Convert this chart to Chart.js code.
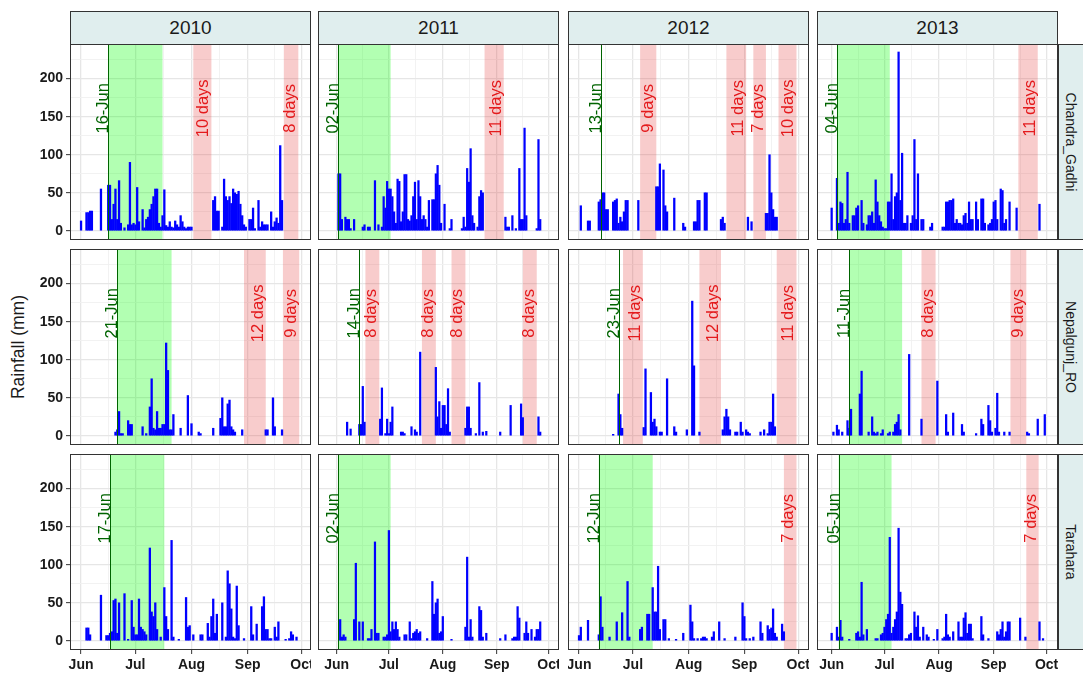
<!DOCTYPE html>
<html><head><meta charset="utf-8">
<script src="https://cdn.jsdelivr.net/npm/chart.js@4.4.1/dist/chart.umd.min.js"></script>
<style>
html,body{margin:0;padding:0;background:#fff}
body{width:1083px;height:675px;overflow:hidden;position:relative;font-family:"Liberation Sans",Arial,sans-serif}
.strip{position:absolute;background:#E0EEEE;border:1px solid #333;box-sizing:border-box}
.stxt{position:absolute;color:#1a1a1a;white-space:nowrap}
</style></head><body>
<script>
// ---------------- data ----------------
const stations = ['Chandra_Gadhi', 'Nepalgunj_RO', 'Tarahara'];
const years = ['2010', '2011', '2012', '2013'];
const monthDays = [0, 30, 61, 92, 122];           // days since 1 Jun
const monthLabels = ['Jun', 'Jul', 'Aug', 'Sep', 'Oct'];
const yTickValues = [0, 50, 100, 150, 200];

// daily rainfall [day since 1 Jun, mm]
const cg2010 = [[0,13],[3,24],[4,24],[5,26],[6,26],[11,55],[15,60],[16,60],[17,15],[18,35],[19,55],[20,15],[21,66],[22,10],[24,4],[26,8],[27,90],[28,8],[29,10],[30,8],[31,57],[32,12],[34,28],[35,4],[36,15],[37,18],[38,28],[39,35],[40,45],[41,55],[42,55],[43,10],[44,5],[45,20],[46,54],[47,7],[48,5],[49,12],[50,5],[51,4],[52,13],[53,8],[54,5],[55,20],[56,12],[57,5],[58,3],[59,5],[60,5],[61,5],[73,40],[74,45],[75,26],[76,26],[78,5],[79,68],[80,45],[81,40],[82,45],[83,36],[84,55],[85,50],[86,48],[87,52],[88,35],[89,20],[90,8],[91,5],[93,15],[94,15],[95,30],[96,3],[98,40],[99,5],[100,12],[101,8],[102,8],[103,8],[105,25],[106,5],[107,12],[108,17],[109,10],[110,112],[111,40]];
const cg2011 = [[1,75],[2,75],[3,15],[5,18],[6,15],[7,15],[8,3],[10,15],[15,5],[16,8],[18,5],[19,5],[22,66],[24,8],[26,5],[27,45],[28,30],[29,65],[30,55],[31,55],[32,45],[33,25],[34,10],[35,68],[36,65],[37,12],[38,25],[39,74],[40,74],[41,15],[42,13],[43,20],[44,45],[45,64],[46,15],[47,66],[48,45],[49,15],[50,20],[51,15],[52,5],[53,40],[55,41],[56,41],[57,75],[58,86],[59,60],[60,10],[62,35],[65,3],[66,15],[72,3],[73,18],[74,5],[75,82],[76,64],[77,108],[78,20],[79,10],[81,5],[82,45],[83,53],[84,50],[97,18],[98,5],[99,5],[101,20],[103,3],[105,82],[106,15],[107,15],[108,135],[109,20],[115,3],[116,120],[117,15]];
const cg2012 = [[1,33],[5,13],[6,13],[11,38],[12,41],[13,50],[14,50],[15,28],[16,28],[19,38],[20,40],[21,42],[22,10],[23,18],[24,12],[25,25],[26,40],[27,40],[33,40],[43,58],[44,58],[45,88],[47,80],[48,33],[49,25],[53,43],[58,10],[59,5],[64,12],[65,12],[66,40],[67,40],[70,50],[71,50],[79,15],[80,18],[81,10],[94,18],[96,12],[104,23],[105,23],[106,100],[107,50],[108,28],[109,18],[110,18]];
const cg2013 = [[0,30],[3,69],[4,10],[5,38],[6,36],[7,10],[8,15],[9,77],[10,10],[12,20],[13,20],[14,30],[15,33],[17,40],[18,10],[20,8],[21,20],[22,20],[23,25],[24,10],[25,67],[26,38],[27,20],[28,12],[29,5],[30,3],[31,3],[32,38],[33,38],[34,75],[35,15],[36,45],[37,50],[38,235],[39,40],[40,102],[41,10],[42,10],[43,20],[45,10],[46,20],[47,120],[48,15],[49,75],[51,15],[52,15],[56,5],[57,10],[63,5],[64,5],[65,38],[66,38],[67,40],[68,40],[69,42],[70,10],[71,15],[72,10],[73,10],[74,8],[75,20],[76,23],[77,10],[78,38],[79,15],[80,15],[82,38],[83,15],[85,42],[86,42],[87,10],[89,8],[90,10],[91,15],[92,38],[93,40],[94,15],[96,55],[97,53],[98,10],[99,15],[101,38],[105,30],[118,35]];
const ng2010 = [[19,5],[20,8],[21,32],[22,3],[23,3],[26,20],[27,15],[28,15],[34,12],[36,3],[38,38],[39,75],[40,10],[41,8],[42,32],[43,10],[44,10],[45,15],[46,15],[47,122],[48,86],[49,8],[50,8],[51,28],[55,10],[59,53],[61,16],[65,5],[66,3],[73,10],[77,23],[78,50],[79,12],[80,12],[81,42],[82,47],[83,12],[84,8],[85,5],[89,8],[102,8],[103,8],[106,50],[107,12],[111,8]];
const ng2011 = [[6,18],[8,9],[13,15],[14,15],[15,65],[16,18],[25,22],[26,63],[28,3],[29,22],[30,3],[31,18],[32,38],[37,5],[38,5],[39,3],[43,12],[45,8],[46,5],[48,110],[57,90],[58,25],[59,45],[60,10],[61,40],[62,40],[63,15],[64,62],[65,5],[74,10],[75,38],[76,38],[77,10],[80,3],[82,70],[84,5],[86,6],[94,5],[100,40],[106,42],[107,24],[116,25],[117,5]];
const ng2012 = [[19,2],[22,55],[23,28],[24,10],[36,11],[37,88],[40,57],[41,18],[42,22],[43,12],[45,5],[46,5],[49,75],[53,12],[54,5],[60,8],[63,177],[64,92],[67,5],[80,8],[81,25],[82,35],[83,25],[84,8],[87,5],[88,5],[90,18],[91,5],[93,8],[94,5],[95,3],[101,5],[103,8],[105,3],[106,18],[107,18],[108,55],[109,12]];
const ng2013 = [[1,5],[3,14],[4,8],[6,5],[9,20],[10,10],[11,35],[16,55],[17,85],[21,5],[23,25],[24,5],[25,3],[26,5],[28,3],[29,8],[32,3],[33,5],[35,5],[36,15],[37,18],[38,28],[39,8],[44,107],[51,22],[60,72],[65,28],[66,5],[69,30],[74,15],[75,5],[82,3],[85,22],[86,15],[89,40],[90,20],[91,5],[93,10],[94,56],[95,5],[98,5],[101,5],[111,5],[112,3],[117,22],[121,28]];
const ta2010 = [[3,17],[4,17],[5,8],[11,60],[14,7],[15,7],[16,10],[17,12],[18,53],[19,55],[20,10],[21,50],[24,62],[26,2],[28,53],[29,18],[30,8],[31,8],[32,55],[33,18],[34,15],[35,12],[36,8],[38,122],[39,38],[40,32],[41,50],[42,15],[44,5],[46,70],[47,32],[48,15],[50,132],[51,5],[54,2],[58,57],[59,18],[60,20],[62,8],[66,8],[67,8],[70,23],[71,5],[72,32],[73,55],[74,10],[75,35],[78,50],[80,5],[81,92],[82,75],[83,42],[84,5],[85,3],[86,72],[87,20],[90,3],[94,45],[95,8],[97,22],[100,45],[101,58],[102,15],[103,15],[104,3],[105,3],[107,18],[108,5],[109,25],[113,2],[115,3],[116,12],[117,8],[119,5]];
const ta2011 = [[2,28],[3,5],[4,8],[5,5],[10,28],[11,102],[13,25],[15,25],[18,3],[19,3],[20,15],[22,130],[23,10],[24,10],[27,5],[28,5],[29,8],[30,145],[31,12],[32,25],[33,15],[34,25],[35,15],[36,5],[39,8],[40,8],[42,25],[43,3],[44,10],[45,12],[46,15],[47,10],[48,12],[52,3],[55,78],[56,35],[57,50],[58,55],[59,10],[60,12],[61,32],[66,2],[74,18],[75,110],[76,5],[77,28],[78,5],[82,45],[83,40],[84,5],[86,10],[94,3],[97,8],[101,3],[102,5],[103,5],[104,45],[105,30],[108,10],[109,25],[110,10],[112,15],[114,5],[115,15],[116,15],[117,25]];
const ta2012 = [[0,7],[1,18],[5,27],[11,8],[12,58],[13,18],[17,5],[21,25],[24,37],[27,78],[28,5],[34,15],[35,18],[38,35],[39,35],[41,70],[42,38],[43,38],[44,98],[45,15],[47,28],[48,28],[50,3],[54,2],[58,10],[62,47],[63,25],[64,3],[66,3],[68,3],[69,5],[70,5],[71,3],[74,5],[75,12],[78,25],[81,3],[87,5],[91,50],[92,32],[93,3],[95,3],[97,5],[101,25],[102,10],[105,20],[106,15],[107,17],[108,42],[109,10],[110,5],[113,22],[114,12]];
const ta2013 = [[0,10],[3,18],[4,5],[5,27],[6,5],[10,2],[14,10],[15,12],[16,5],[17,77],[18,8],[20,15],[25,3],[26,3],[28,8],[29,10],[30,18],[31,28],[32,35],[33,136],[34,10],[35,18],[36,28],[37,38],[38,148],[39,64],[40,48],[42,3],[43,3],[44,8],[45,10],[47,38],[48,18],[49,33],[50,5],[52,18],[54,8],[55,5],[58,2],[60,15],[63,3],[64,5],[65,35],[66,8],[67,5],[69,12],[72,25],[73,5],[74,5],[75,30],[76,37],[77,10],[78,22],[79,22],[80,3],[85,32],[86,8],[89,3],[94,12],[95,8],[96,15],[97,25],[98,5],[99,12],[100,25],[101,25],[107,30],[110,5],[118,25],[120,3]];

// onset day (days since 1 Jun) and its label
const onsetDay = [[15, 1, 12, 3], [20, 13, 22, 10], [16, 1, 11, 4]];
const onsetLabel = [['16-Jun','02-Jun','13-Jun','04-Jun'], ['21-Jun','14-Jun','23-Jun','11-Jun'], ['17-Jun','02-Jun','12-Jun','05-Jun']];
// 30-day period after onset (null = none)
const wetPeriod = [[[15,45],[1,31],null,[3,33]], [[20,50],null,null,[10,40]], [[16,46],[1,31],[11,41],[4,34]]];
// dry spells [start day, length in days]
const drySpells = [
  [[[62,10],[112,8]], [[85,11]], [[34,9],[82,11],[97,7],[111,10]], [[106,11]]],
  [[[90,12],[111.5,9]], [[16.5,8],[49,8],[66,8],[107,8]], [[24.5,11],[67,12],[110,11]], [[51,8],[101.5,9]]],
  [[], [], [[114,7]], [[110.5,7]]]
];
const rain = [[cg2010, cg2011, cg2012, cg2013], [ng2010, ng2011, ng2012, ng2013], [ta2010, ta2011, ta2012, ta2013]];

// ---------------- layout / style ----------------
const FONT = '"Liberation Sans", Arial, sans-serif';
const colL = [70, 318, 568, 817], colW = 241;
const rowT = [44, 249, 454], rowH = 196;
const xRange = [[-6.1, 127.0], [-10.75, 127.8], [-6.13, 127.97], [-8.32, 128.5]];
const Y_MIN = -12, Y_MAX = 245.5;
const AXW = 50, AXH = 26;
const xGrid = [0, 15, 30, 45.5, 61, 76.5, 92, 107, 122];
const yGrid = [0, 25, 50, 75, 100, 125, 150, 175, 200, 225];
const MAJ = '#e6e6e6', MIN = '#f0f0f0';

function vlabel(ctx, text, xp, yp, color) {
  ctx.save();
  ctx.font = '16.5px ' + FONT;
  ctx.fillStyle = color;
  const m = ctx.measureText(text);
  const desc = m.actualBoundingBoxDescent || 0;
  ctx.translate(xp, yp);
  ctx.rotate(-Math.PI / 2);
  ctx.textAlign = 'center';
  ctx.textBaseline = 'alphabetic';
  ctx.fillText(text, 0, -desc);
  ctx.restore();
}

function panelPlugin(r, c) {
  return {
    id: 'panel' + r + c,
    beforeDatasetsDraw(chart) {
      const { ctx, chartArea: a, scales: { x } } = chart;
      ctx.save();
      ctx.beginPath(); ctx.rect(a.left, a.top, a.width, a.height); ctx.clip();
      const wp = wetPeriod[r][c];
      if (wp) {
        const x0 = x.getPixelForValue(wp[0]), x1 = x.getPixelForValue(wp[1]);
        ctx.fillStyle = 'rgba(0,255,0,0.3)';
        ctx.fillRect(x0, a.top, x1 - x0, a.height);
      }
      ctx.fillStyle = 'rgba(225,40,40,0.24)';
      for (const [s, n] of drySpells[r][c]) {
        const x0 = x.getPixelForValue(s), x1 = x.getPixelForValue(s + n);
        ctx.fillRect(x0, a.top, x1 - x0, a.height);
      }
      ctx.restore();
    },
    afterDatasetsDraw(chart) {
      const { ctx, chartArea: a, scales: { x, y } } = chart;
      const yl = y.getPixelForValue(161);
      const xo = x.getPixelForValue(onsetDay[r][c]);
      ctx.save();
      ctx.strokeStyle = '#006400'; ctx.lineWidth = 1;
      ctx.beginPath(); ctx.moveTo(Math.round(xo) + 0.5, a.top); ctx.lineTo(Math.round(xo) + 0.5, a.bottom); ctx.stroke();
      ctx.restore();
      vlabel(ctx, onsetLabel[r][c], Math.round(xo), yl, '#006400');
      for (const [s, n] of drySpells[r][c]) {
        vlabel(ctx, n + ' days', x.getPixelForValue(s + n), yl, '#e41a1c');
      }
      ctx.save();
      ctx.strokeStyle = '#333'; ctx.lineWidth = 1;
      ctx.strokeRect(a.left + 0.5, a.top + 0.5, a.width - 1, a.height - 1);
      ctx.restore();
    }
  };
}

function makePanel(r, c) {
  const showY = c === 0, showX = r === 2;
  const left = colL[c] - (showY ? AXW : 0);
  const w = colW + (showY ? AXW : 0), h = rowH + (showX ? AXH : 0);
  const cv = document.createElement('canvas');
  cv.width = w; cv.height = h;
  cv.style.cssText = `position:absolute;left:${left}px;top:${rowT[r]}px;width:${w}px;height:${h}px`;
  document.body.appendChild(cv);
  const [xmin, xmax] = xRange[c];
  const ppd = colW / (xmax - xmin);
  const isMajX = v => monthDays.includes(v);
  const isMajY = v => yTickValues.includes(v);
  new Chart(cv, {
    type: 'bar',
    data: { datasets: [{
      data: rain[r][c].map(([d, v]) => ({ x: d, y: v })),
      backgroundColor: '#0000ff', borderWidth: 0, barThickness: ppd * 0.9
    }] },
    options: {
      responsive: false, animation: false, devicePixelRatio: 1,
      layout: { padding: 0 },
      plugins: { legend: { display: false }, tooltip: { enabled: false }, title: { display: false } },
      scales: {
        x: {
          type: 'linear', min: xmin, max: xmax, offset: false,
          afterBuildTicks: s => { s.ticks = xGrid.map(v => ({ value: v })); },
          afterFit: s => { s.height = showX ? AXH : 0; s.paddingLeft = 0; s.paddingRight = 0; },
          border: { display: false },
          grid: {
            offset: false,
            color: ctx => isMajX(ctx.tick.value) ? MAJ : MIN,
            lineWidth: ctx => isMajX(ctx.tick.value) ? 1.3 : 0.9,
            drawTicks: showX, tickLength: 4,
            tickColor: ctx => isMajX(ctx.tick.value) ? '#333' : 'rgba(0,0,0,0)', tickWidth: 1
          },
          ticks: {
            display: showX, autoSkip: false, maxRotation: 0, minRotation: 0, padding: 3,
            color: '#1a1a1a', font: { family: FONT, size: 14, weight: 'bold' },
            callback: v => { const i = monthDays.indexOf(v); return i >= 0 ? monthLabels[i] : ''; }
          }
        },
        y: {
          type: 'linear', min: Y_MIN, max: Y_MAX,
          afterBuildTicks: s => { s.ticks = yGrid.map(v => ({ value: v })); },
          afterFit: s => { s.width = showY ? AXW : 0; s.paddingTop = 0; s.paddingBottom = 0; },
          border: { display: false },
          grid: {
            color: ctx => isMajY(ctx.tick.value) ? MAJ : MIN,
            lineWidth: ctx => isMajY(ctx.tick.value) ? 1.3 : 0.9,
            drawTicks: showY, tickLength: 4,
            tickColor: ctx => isMajY(ctx.tick.value) ? '#333' : 'rgba(0,0,0,0)', tickWidth: 1
          },
          ticks: {
            display: showY, autoSkip: false, padding: 3,
            color: '#1a1a1a', font: { family: FONT, size: 14, weight: 'bold' },
            callback: v => isMajY(v) ? String(v) : ''
          }
        }
      }
    },
    plugins: [panelPlugin(r, c)]
  });
}

// strips
function addDiv(cls, css, text) {
  const d = document.createElement('div');
  d.className = cls; d.style.cssText = css;
  if (text !== undefined) d.textContent = text;
  document.body.appendChild(d);
  return d;
}
years.forEach((yr, c) => {
  addDiv('strip', `left:${colL[c]}px;top:11px;width:${colW}px;height:34px;`);
  addDiv('stxt', `left:${colL[c]}px;top:11px;width:${colW}px;height:34px;line-height:34px;text-align:center;font-size:19px;`, yr);
});
stations.forEach((st, r) => {
  addDiv('strip', `left:1058px;top:${rowT[r]}px;width:30px;height:${rowH}px;`);
  addDiv('stxt', `left:1071px;top:${rowT[r] + rowH / 2}px;font-size:14px;transform:translate(-50%,-50%) rotate(90deg);`, st);
});
addDiv('stxt', `left:18px;top:347px;font-size:17.5px;transform:translate(-50%,-50%) rotate(-90deg);`, 'Rainfall (mm)');

for (let r = 0; r < 3; r++) for (let c = 0; c < 4; c++) makePanel(r, c);
</script>
</body></html>
